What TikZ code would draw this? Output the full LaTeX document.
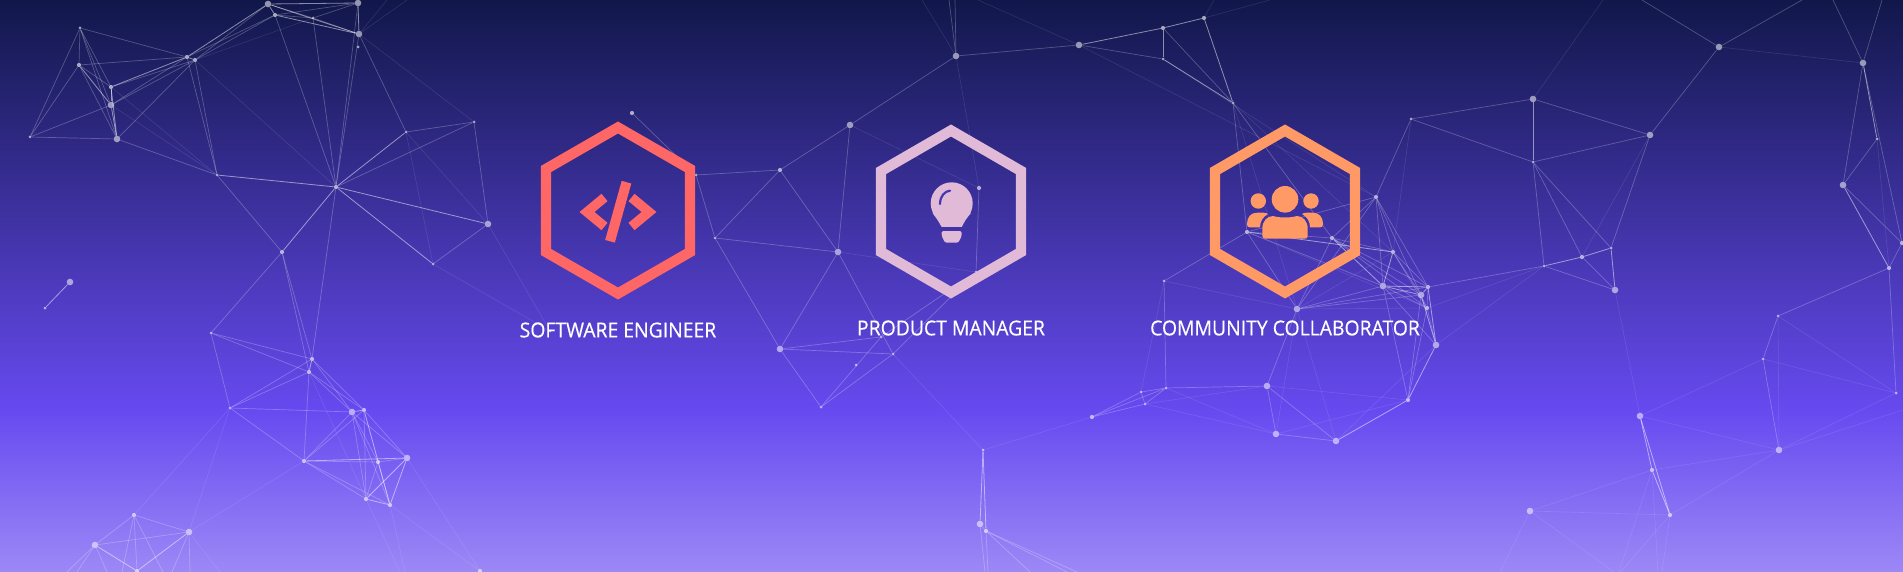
\documentclass[tikz,border=0pt]{standalone}
\usepackage{fontspec}
\setmainfont{Open Sans}
\newfontfamily\rolefont[FakeStretch=0.94,FakeBold=0.35]{Open Sans}
\usetikzlibrary{calc}
\definecolor{bgtop}{HTML}{11174A}
\definecolor{bgmid}{HTML}{674AF0}
\definecolor{bgbot}{HTML}{9D88F6}
\definecolor{coral}{HTML}{FF6666}
\definecolor{mauve}{HTML}{E0BAD7}
\definecolor{apricot}{HTML}{FF9966}
\tikzset{
  dotS/.style={circle,fill=white,fill opacity=.6,draw=none,inner sep=0pt,minimum size=3pt},
  dotM/.style={circle,fill=white,fill opacity=.62,draw=none,inner sep=0pt,minimum size=4.2pt},
  dotL/.style={circle,fill=white,fill opacity=.55,draw=none,inner sep=0pt,minimum size=6.6pt},
  strongedge/.style={white,line width=.8pt,opacity=.5},
  midedge/.style={white,line width=.7pt,opacity=.25},
  faintedge/.style={white,line width=.6pt,opacity=.11},
  hexring/.style={line width=10.4pt,miter limit=10,line join=miter},
  rolelabel/.style={text=white,font=\rolefont\fontsize{20.6}{24}\selectfont,inner sep=0pt,anchor=center}
}
\begin{document}
\begin{tikzpicture}[x=1pt,y=-1pt]
\useasboundingbox (0,0) rectangle (1903,572);
\fill[top color=bgtop,bottom color=bgmid] (0,0) rectangle (1903,411);
\fill[top color=bgmid,bottom color=bgbot] (0,410) rectangle (1903,572);
\clip (0,0) rectangle (1903,572);
% particle nodes
\foreach \n/\x/\y in {A1/80/28,A6/30/137,A14/217/175,A17/406/132,A18/474/122,A20/433/264,A22/45/308,B1/211/333,B4/230/408,C0/550/331,D2/696/175,D4/715/238,D8/821/407,D9/893/354,D10/881/337,D11/856/365,A11/313/18,F4/1163/59,F6/1233/103,G2/1411/119,G12/1164/281,H1/1166/388,H2/1141/392,H3/1145/404,I3/1533/162,I6/1611/248,I8/1544/266,I11/1877/139,J2/1778/316,J3/1763/359,J4/1896/393,K1/983/450,E2/976/272,A23/358/47}
  \node[dotS] (\n) at (\x,\y) {};
\foreach \n/\x/\y in {A2/79/65,A3/111/87,A7/187/57,A8/195/60,A10/275/15,A15/336/187,A16/282/252,B2/312/359,B3/309/372,B6/364/410,B7/304/461,B8/378/462,B10/366/499,B11/390/505,B12/134/515,B15/137/571,B16/480/571,D1/632/113,D3/780/170,E1/979/188,F3/1163/28,F5/1204/18,G3/1376/197,G4/1247/232,G5/1332/238,G6/1393/252,G8/1428/287,G10/1427/308,H8/1408/400,I7/1582/257,I13/1902/243,I14/1889/268,J6/1652/470,J7/1670/515,K3/986/531,H4/1092/417}
  \node[dotM] (\n) at (\x,\y) {};
\foreach \n/\x/\y in {A4/111/105,A5/117/139,A9/268/4,A12/358/3,A13/359/34,A19/488/224,A21/70/282,B5/352/412,B9/407/458,B13/189/532,B14/95/545,D5/850/125,D6/838/252,D7/780/349,F1/956/56,F2/1079/45,G7/1383/286,G9/1421/295,G11/1297/309,G13/1436/345,H5/1267/386,H6/1276/434,H7/1336/441,I1/1533/99,I4/1650/135,I5/1719/47,I9/1615/290,I10/1863/63,I12/1843/185,J1/1640/416,J5/1779/450,J8/1530/511,K2/980/524}
  \node[dotL] (\n) at (\x,\y) {};
% free ends at the picture's border
\foreach \n/\x/\y in {T1/387/0,T2/407/0,T3/949/0,T4/955/0,T5/922/0,T6/978/0,T7/1214/0,T8/1270/0,T9/1603/0,T10/1642/0,T11/1802/0,T12/1833/0,T13/1882/0,R1/1903/410,U1/67/572,U2/77/572,U3/107/572,U4/122/572,U5/163/572,U6/172/572,U7/190/572,U8/220/572,U9/400/572,U10/405/572,U11/985/572,U12/988/572,U13/1030/572,U14/1077/572,U15/1067/572,U16/1500/572,U17/1658/572,U18/1662/572,L1/1618/575}
  \coordinate (\n) at (\x,\y);
% connectors
\foreach \a/\b in {A14/A15,A15/A16,A15/A17,A15/A20,A15/A19,A9/A13,A12/A13,A9/A10,A10/A13,A2/A4,A4/A5,A3/A4,A3/A5,A9/A12,F3/F4,F2/F3,F3/F5,B14/B15,B13/B15,B2/B3,B7/B9,B10/B11,B6/B11,B5/B6,B9/B11,B9/B10,I7/I8,I6/I7,I1/I3,I10/I11,I6/I9,J6/J7,J1/J7,J1/J6,K1/K2,K1/K3,G4/G6,G6/G7,G5/G7,G7/G8,G7/G9,G8/G9,G8/G13,G9/G13,H7/H8,H8/G13,F4/F6,F5/F6,A7/A8,A7/A9,A3/A7,A21/A22,I12/I14}
  \draw[strongedge] (\a) -- (\b);
\foreach \a/\b in {A1/A2,A1/A7,A1/A3,A1/A4,A1/A5,A1/A6,A2/A3,A2/A5,A2/A6,A2/A7,A3/A8,A4/A6,A4/A7,A4/A8,A5/A6,A5/A8,A5/A14,A8/A9,A7/A10,A8/A10,A10/A11,A11/A12,A11/A13,A9/A11,A10/A12,A7/A14,A8/A14,A11/A15,A12/A15,A13/A15,A10/A15,A13/A17,A14/A16,A15/A18,A17/A18,A18/A19,A19/A20,A16/B1,A16/B2,A16/B3,A15/B2,B1/B2,B1/B3,B1/B4,B2/B4,B3/B4,B4/B5,B4/B7,B2/B6,B2/B5,B3/B5,B3/B6,B3/B7,B5/B7,B6/B7,B5/B10,B6/B10,B6/B9,B5/B9,B5/B11,B5/B8,B7/B8,B8/B9,B7/B10,B7/B11,B8/B10,B8/B11,B12/B13,B12/B14,B13/B14,B12/B15,B14/U1,B14/U2,B14/U3,B12/U4,B12/U5,B13/U6,B13/U7,D1/D2,D2/D3,D2/D4,D3/D4,D3/D5,D3/D6,D4/D6,D4/D7,D5/D6,D6/D7,D6/D9,D7/D9,D7/D8,D8/D9,D8/D10,D7/D10,D9/E2,D10/E2,F1/F2,F2/F4,F3/F6,F1/T3,F1/T4,F1/D5,E1/E2,F6/G4,F6/G5,G3/G4,G3/G5,G3/G6,G3/G7,G3/G8,G3/G9,G3/G11,G2/G3,G4/G5,G4/G7,G4/G11,G5/G6,G5/G8,G5/G9,G5/G10,G5/G11,G6/G8,G6/G9,G6/G10,G7/G10,G7/G13,G8/G10,G9/G10,G10/G13,G7/H8,G9/H8,G10/H8,G11/G7,G11/G8,G11/G9,G11/H5,G12/G4,G12/H1,H5/H7,H5/H6,H6/H7,H1/H2,H1/H3,H2/H3,H1/H4,H2/H4,H3/H4,H1/H5,G2/I1,G2/I3,I1/I4,I3/I4,I4/I5,I5/T10,I5/T11,I10/T12,I10/T13,I10/I12,I11/I12,I10/I13,I12/I13,I13/I14,I3/I8,I3/I7,I3/I6,I4/I6,I7/I9,I8/I9,I8/G8,I14/J2,I14/J4,J2/J3,J3/J5,K2/K3,K2/U11,K3/U12,K3/U13,K3/U14,K3/U15}
  \draw[midedge] (\a) -- (\b);
\foreach \a/\b in {A3/A14,A4/A14,A8/A11,A8/A15,A13/T1,A13/T2,A13/A18,A17/A19,A17/A20,A20/C0,A19/C0,B3/B10,B12/B4,B13/B4,B13/B7,B13/U8,B10/U9,B11/U10,B11/B16,B9/B16,D5/E1,D6/E2,F1/T5,F1/E1,F2/T6,F2/G3,F4/G3,F5/T7,F5/T8,F6/G11,F6/G6,G2/G6,G4/G10,G6/G11,G11/G10,G11/G12,G11/H6,G11/H7,G12/H2,H1/H6,H3/H6,H3/H5,H5/H8,H6/H8,H7/G13,I1/T9,I5/I10,I9/J1,I11/I14,I4/I7,I8/G10,I8/G13,J1/J3,J7/J8,J2/J4,J2/J5,J3/J4,J4/J5,J1/J5,J6/J5,J7/J5,J6/J8,J8/U16,J8/L1,J7/L1,J6/L1,J5/R1,J6/U17,J7/U18,K1/D9,K1/H4}
  \draw[faintedge] (\a) -- (\b);
% hexagon rings
\draw[hexring,coral] (618,127.5) -- (690,169) -- (690,252) -- (618,293.5) -- (546,252) -- (546,169) -- cycle;
\draw[hexring,mauve] (951,130.5) -- (1021,171) -- (1021,252) -- (951,292.5) -- (881,252) -- (881,171) -- cycle;
\draw[hexring,apricot] (1285,130.5) -- (1355,171) -- (1355,252) -- (1285,292.5) -- (1215,252) -- (1215,171) -- cycle;
% code icon
\draw[coral,line width=9.5pt,miter limit=10] (604.5,197.5) -- (587,212) -- (604.5,226.5);
\draw[coral,line width=9.5pt,miter limit=10] (631.5,197.5) -- (649,212) -- (631.5,226.5);
\draw[coral,line width=10pt] (626.5,182.2) -- (610,241.3);
% bulb icon
\fill[mauve] (951.7,203.3) circle (21pt);
\fill[mauve] (932.5,213) .. controls (937,219) .. (941.7,227) -- (961.7,227) .. controls (966,219) .. (970.9,213) -- cycle;
\fill[mauve,rounded corners=1.5pt] (941.7,231) -- (961.7,231) -- (961.7,236) -- (958.3,242.7) -- (945,242.7) -- (941.7,236) -- cycle;
\draw[bgmid!62!bgtop,line width=2.2pt,line cap=round] (940,204) .. controls (940,196) and (945,191) .. (950,190.7);
% people icon
\fill[apricot] (1285,199.3) circle (13.3pt);
\fill[apricot] (1258.3,201) circle (7.7pt);
\fill[apricot] (1311,201) circle (7.7pt);
\fill[apricot] (1262.3,234) .. controls (1262.3,238) and (1263,238.7) .. (1267,238.7) -- (1303,238.7) .. controls (1307,238.7) and (1307.7,238) .. (1307.7,234) -- (1307.7,229) .. controls (1307.7,221) and (1303,216) .. (1296.7,216) .. controls (1291,218) and (1279,218) .. (1273.3,216) .. controls (1267,216) and (1262.3,221) .. (1262.3,229) -- cycle;
\fill[apricot] (1247,224) .. controls (1247,217) and (1251,212.7) .. (1257,212.7) -- (1263,212.7) .. controls (1265,212.7) and (1267,213) .. (1268,214) .. controls (1263,217) and (1260,221) .. (1260,227.4) -- (1250,227.4) .. controls (1248,227.4) and (1247,226.4) .. (1247,224.4) -- cycle;
\fill[apricot] (1323,224) .. controls (1323,217) and (1319,212.7) .. (1313,212.7) -- (1307,212.7) .. controls (1305,212.7) and (1303,213) .. (1302,214) .. controls (1307,217) and (1310,221) .. (1310,227.4) -- (1320,227.4) .. controls (1322,227.4) and (1323,226.4) .. (1323,224.4) -- cycle;
% labels
\node[rolelabel] (role1) at (618,330) {SOFTWARE ENGINEER};
\node[rolelabel] (role2) at (951,328) {PRODUCT MANAGER};
\node[rolelabel] (role3) at (1285,328) {COMMUNITY COLLABORATOR};
\end{tikzpicture}
\end{document}
